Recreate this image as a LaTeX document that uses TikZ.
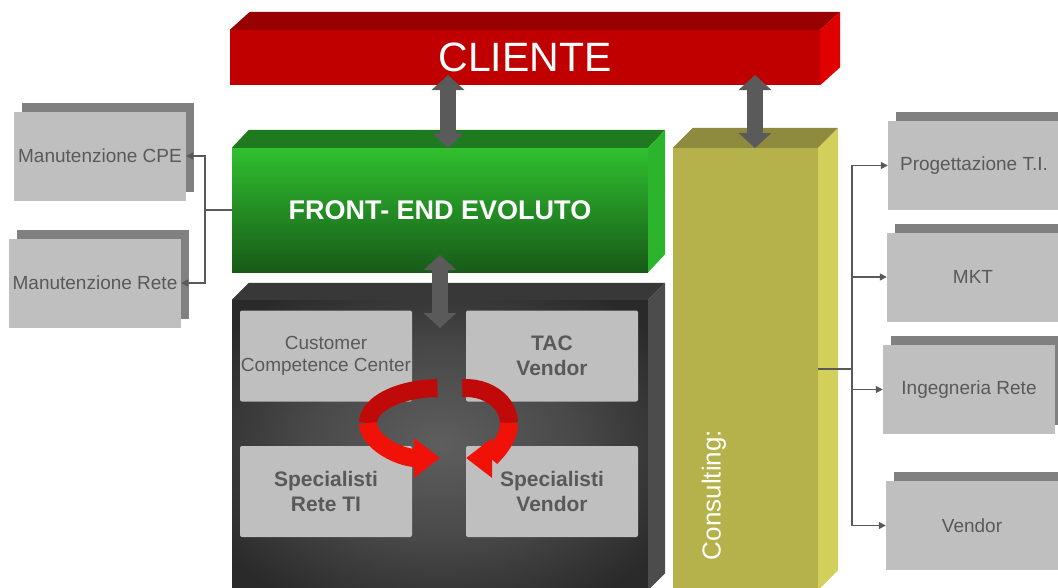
\documentclass[tikz,border=0pt]{standalone}
\usepackage{fontspec}
\setmainfont{Liberation Sans}
\usetikzlibrary{arrows.meta,shadows}
\definecolor{redfront}{HTML}{C00000}
\definecolor{redtop}{HTML}{990000}
\definecolor{redside}{HTML}{E00000}
\definecolor{greenlight}{HTML}{30C030}
\definecolor{greendark}{HTML}{185A18}
\definecolor{greentop}{HTML}{1F7A1F}
\definecolor{greenside}{HTML}{2DB42D}
\definecolor{darkfront}{HTML}{2A2A2A}
\definecolor{darkglow}{HTML}{5E5E5E}
\definecolor{darktop}{HTML}{383838}
\definecolor{darkside}{HTML}{4C4C4C}
\definecolor{consultfront}{HTML}{B5B24C}
\definecolor{consulttop}{HTML}{8E8A3E}
\definecolor{consultside}{HTML}{D2CF5A}
\definecolor{boxgray}{HTML}{BFBFBF}
\definecolor{shadowgray}{HTML}{808080}
\definecolor{labelgray}{HTML}{595959}
\definecolor{arrowgray}{HTML}{5A5A5A}
\definecolor{ribbonback}{HTML}{C00A0A}
\definecolor{ribbonfront}{HTML}{F01208}
\pgfdeclareradialshading{glow}{\pgfpoint{0bp}{0bp}}{color(0bp)=(darkglow); color(16bp)=(darkglow!60!darkfront); color(32bp)=(darkfront); color(100bp)=(darkfront)}
\tikzset{
block/.style={inner sep=0pt,text=white,align=center},
sidebox/.style={fill=boxgray,minimum width=172pt,minimum height=89pt,inner sep=0pt,text=labelgray,font=\fontsize{19}{23}\selectfont,copy shadow={shadow xshift=8pt,shadow yshift=9pt,fill=shadowgray,draw=none}},
innerbox/.style={fill=boxgray,rounded corners=2pt,minimum width=172pt,minimum height=91pt,inner sep=0pt,text=labelgray,align=center},
dblarrow/.style={draw=arrowgray,line width=16pt,{Triangle[length=15pt,width=32pt]}-{Triangle[length=15pt,width=32pt]}},
ribbon/.style={line width=18pt},
connline/.style={draw=labelgray,line width=1.5pt},
conn/.style={connline,-{Triangle[length=7pt,width=7pt]}}
}
\begin{document}
\begin{tikzpicture}[x=1pt,y=-1pt]
\useasboundingbox (0,0) rectangle (1058,587);
\clip (0,0) rectangle (1058,587);
\node[block,fill=redfront,minimum width=590pt,minimum height=55pt,font=\fontsize{41}{45}\selectfont] (cliente) at (525,57.5) {CLIENTE};
\node[block,top color=greenlight,bottom color=greendark,minimum width=416pt,minimum height=124pt,font=\bfseries\fontsize{27}{30}\selectfont] (frontend) at (440,210) {FRONT- END EVOLUTO};
\node[block,shading=glow,minimum width=416pt,minimum height=290pt] (core) at (440,445) {};
\node[block,fill=consultfront,minimum width=145pt,minimum height=442pt] (consult) at (745.5,369) {};
\foreach \b/\dx/\dy/\tc/\sc in {cliente/20/18/redtop/redside,frontend/17/18/greentop/greenside,core/17/17/darktop/darkside,consult/20/20/consulttop/consultside}{
  \fill[\tc] (\b.north west) -- ++(\dx,-\dy) -- ([shift={(\dx,-\dy)}]\b.north east) -- (\b.north east) -- cycle;
  \fill[\sc] (\b.north east) -- ++(\dx,-\dy) -- ([shift={(\dx,-\dy)}]\b.south east) -- (\b.south east) -- cycle;
}
\node[block,rotate=90,font=\fontsize{26}{30}\selectfont] (consultlabel) at (714,495) {Consulting:};

\node[innerbox,font=\fontsize{19}{22}\selectfont] (ccc) at (326,356) {Customer\\Competence Center};
\node[innerbox,font=\bfseries\fontsize{21}{25}\selectfont] (tac) at (552,356) {TAC\\Vendor};
\node[innerbox,font=\bfseries\fontsize{21}{25}\selectfont] (srt) at (326,491.5) {Specialisti\\Rete TI};
\node[innerbox,font=\bfseries\fontsize{21}{25}\selectfont] (sv) at (552,491.5) {Specialisti\\Vendor};

\draw[ribbon,ribbonback] (440,423) ++(-92:72 and 35) arc[start angle=-92,end angle=-180,x radius=72,y radius=35];
\draw[ribbon,ribbonfront,-{Triangle[length=26pt,width=38pt]}] (440,423) ++(-180:72 and 35) arc[start angle=-180,end angle=-270,x radius=72,y radius=35];
\draw[ribbon,ribbonback] (466,423) ++(-95:43 and 35) arc[start angle=-95,end angle=0,x radius=43,y radius=35];
\draw[ribbon,ribbonfront,-{Triangle[length=26pt,width=38pt]}] (466,423) ++(0:43 and 35) arc[start angle=0,end angle=90,x radius=43,y radius=35];

\node[sidebox] (cpe) at (100,156) {Manutenzione CPE};
\node[sidebox] (rete) at (95,283) {Manutenzione Rete};
\node[sidebox] (prog) at (974,165.5) {Progettazione T.I.};
\node[sidebox] (mkt) at (973,277) {MKT};
\node[sidebox] (ing) at (969,389.5) {Ingegneria Rete};
\node[sidebox] (vend) at (972,525.5) {Vendor};

\coordinate (c1) at (448,75);
\coordinate (f1) at (448,148);
\coordinate (c2) at (755,75);
\coordinate (k1) at (755,148);
\coordinate (f2) at (440,255);
\coordinate (k2) at (440,328);
\draw[dblarrow] (c1) -- (f1);
\draw[dblarrow] (c2) -- (k1);
\draw[dblarrow] (f2) -- (k2);

\coordinate (lsplit) at (205,210);
\draw[connline] (frontend.west) -- (lsplit);
\draw[conn] (lsplit) |- (cpe.east);
\draw[conn] (lsplit) |- (rete.east);
\coordinate (rsplit) at (852,369);
\draw[connline] (consult.east) -- (rsplit);
\foreach \t in {prog,mkt,ing,vend}
  \draw[conn] (rsplit) |- (\t.west);
\end{tikzpicture}
\end{document}
